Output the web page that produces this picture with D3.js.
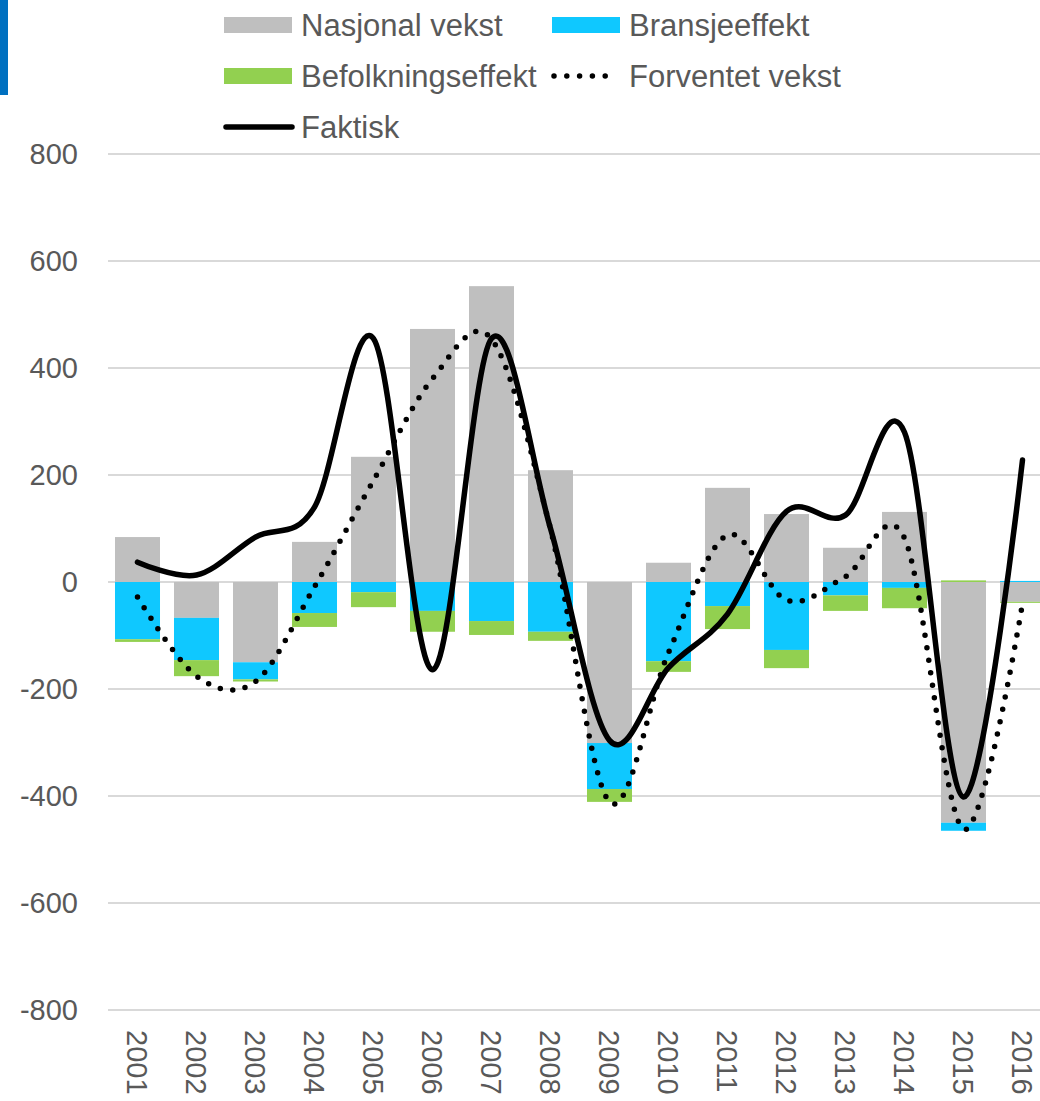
<!DOCTYPE html>
<html>
<head>
<meta charset="utf-8">
<script src="https://cdn.jsdelivr.net/npm/d3@7"></script>
<style>
  body { margin: 0; background: #fff; }
  text { font-family: "Liberation Sans", Arial, sans-serif; fill: #595959; }
</style>
</head>
<body>
<div id="chart"></div>
<script>
// data ========================================================================
var years = ["2001", "2002", "2003", "2004", "2005", "2006", "2007", "2008",
             "2009", "2010", "2011", "2012", "2013", "2014", "2015", "2016"];
var nasjonal   = [84, -67, -150, 75, 234, 473, 553, 209, -301, 36, 176, 127, 64, 131, -450, -37];
var bransje    = [-107, -79, -32, -58, -19, -54, -73, -93, -86, -148, -45, -127, -25, -11, -15, 2];
var befolkning = [-5, -30, -4, -26, -28, -39, -26, -17, -24, -20, -43, -34, -29, -38, 3, -2];
var forventet  = [-28, -176, -186, -9, 190, 380, 454, 99, -411, -132, 88, -34, 10, 82, -462, -40];
var faktisk    = [37, 13, 84, 140, 455, -164, 455, 100, -296, -160, -60, 132, 125, 280, -402, 228];
var yTicks = [-800, -600, -400, -200, 0, 200, 400, 600, 800];

var seriesNames = ["Nasjonal vekst", "Bransjeeffekt", "Befolkningseffekt"];
var colors = { "Nasjonal vekst": "#bfbfbf", "Bransjeeffekt": "#0fc8ff", "Befolkningseffekt": "#92d050" };

// UI ==========================================================================
var width = 1040, height = 1101;

var svg = d3.select("#chart").append("svg")
    .attr("width", width)
    .attr("height", height);

// decorative accent bar top left
svg.append("rect")
    .attr("x", 0).attr("y", 0)
    .attr("width", 8).attr("height", 95)
    .attr("fill", "#0070c0");

var x = d3.scaleBand()
    .domain(years)
    .range([108, 1052])
    .paddingInner(0.237)
    .paddingOuter(0.1185);

var y = d3.scaleLinear()
    .domain([-800, 800])
    .range([1010, 154]);

// gridlines
svg.append("g")
    .selectAll("line")
    .data(yTicks)
    .join("line")
    .attr("x1", 108)
    .attr("x2", width)
    .attr("y1", function (d) { return y(d); })
    .attr("y2", function (d) { return y(d); })
    .attr("stroke", "#d9d9d9")
    .attr("stroke-width", 2);

// Y axis labels
svg.append("g")
    .selectAll("text")
    .data(yTicks)
    .join("text")
    .attr("x", 78)
    .attr("y", function (d) { return y(d); })
    .attr("dy", "0.35em")
    .attr("text-anchor", "end")
    .style("font-size", "29px")
    .text(function (d) { return d; });

// X axis labels (rotated)
svg.append("g")
    .selectAll("text")
    .data(years)
    .join("text")
    .attr("transform", function (d) {
        return "translate(" + (x(d) + x.bandwidth() / 2) + ",1030) rotate(90)";
    })
    .attr("dy", "0.35em")
    .attr("text-anchor", "start")
    .style("font-size", "29px")
    .text(function (d) { return d; });

// stacked bars
var table = years.map(function (yr, i) {
    return { year: yr, "Nasjonal vekst": nasjonal[i], "Bransjeeffekt": bransje[i], "Befolkningseffekt": befolkning[i] };
});

var stack = d3.stack()
    .keys(seriesNames)
    .offset(d3.stackOffsetDiverging);

svg.append("g")
    .selectAll("g")
    .data(stack(table))
    .join("g")
    .attr("fill", function (d) { return colors[d.key]; })
    .selectAll("rect")
    .data(function (d) { return d; })
    .join("rect")
    .attr("x", function (d) { return x(d.data.year); })
    .attr("width", x.bandwidth())
    .attr("y", function (d) { return y(Math.max(d[0], d[1])); })
    .attr("height", function (d) { return Math.abs(y(d[0]) - y(d[1])); });

var line = function (vals) {
    return d3.line()
        .x(function (d, i) { return x(years[i]) + x.bandwidth() / 2; })
        .y(function (d) { return y(d); })
        .curve(d3.curveCatmullRom.alpha(0))(vals);
};

// Forventet vekst (dotted)
svg.append("path")
    .attr("d", line(forventet))
    .attr("fill", "none")
    .attr("stroke", "#000")
    .attr("stroke-width", 5.5)
    .attr("stroke-linecap", "round")
    .attr("stroke-dasharray", "0 12.6");

// Faktisk (solid)
svg.append("path")
    .attr("d", line(faktisk))
    .attr("fill", "none")
    .attr("stroke", "#000")
    .attr("stroke-width", 5.5)
    .attr("stroke-linecap", "round");

// legend ======================================================================
var legend = svg.append("g").style("font-size", "31px");

var legendItems = [
    { name: "Nasjonal vekst", type: "rect", lx: 224, ly: 25 },
    { name: "Bransjeeffekt", type: "rect", lx: 552, ly: 25 },
    { name: "Befolkningseffekt", type: "rect", lx: 224, ly: 76 },
    { name: "Forventet vekst", type: "dot", lx: 552, ly: 76 },
    { name: "Faktisk", type: "line", lx: 224, ly: 127 }
];

legendItems.forEach(function (item) {
    if (item.type == "rect") {
        legend.append("rect")
            .attr("x", item.lx).attr("y", item.ly - 8)
            .attr("width", 68).attr("height", 16)
            .attr("fill", colors[item.name]);
    } else {
        legend.append("line")
            .attr("x1", item.lx + 2).attr("x2", item.lx + (item.type == "dot" ? 66 : 68))
            .attr("y1", item.ly).attr("y2", item.ly)
            .attr("stroke", "#000")
            .attr("stroke-width", 5.5)
            .attr("stroke-linecap", "round")
            .attr("stroke-dasharray", item.type == "dot" ? "0 12.8" : null);
    }
    legend.append("text")
        .attr("x", item.lx + 77)
        .attr("y", item.ly)
        .attr("dy", "0.35em")
        .text(item.name);
});
</script>
</body>
</html>
